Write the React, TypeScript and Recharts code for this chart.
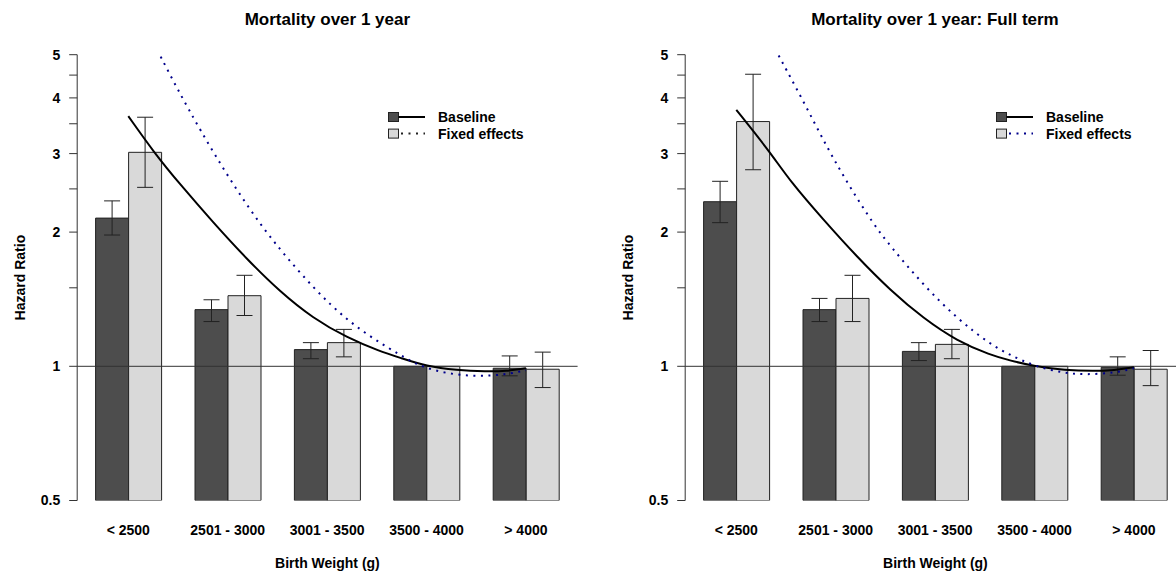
import React from "react";
import { ComposedChart, Bar, Line, XAxis, YAxis, ErrorBar, ReferenceLine, Legend } from "recharts";

const FONT = "'Liberation Sans', Arial, sans-serif";
const DARK = "#4d4d4d";
const LIGHT = "#d9d9d9";
const BLUE = "#00008b";

const categories = ["< 2500", "2501 - 3000", "3001 - 3500", "3500 - 4000", "> 4000"];
const yTicks = [0.5, 1, 1.5, 2, 2.5, 3, 3.5, 4, 4.5, 5];
const yLabelled = [0.5, 1, 2, 3, 4, 5];

// panel 1: all births
const baseAll = [2.15, 1.34, 1.09, 1, 0.99];
const baseAllLo = [1.97, 1.26, 1.04, null, 0.952];
const baseAllHi = [2.35, 1.41, 1.13, null, 1.055];
const feAll = [3.02, 1.44, 1.13, 1, 0.985];
const feAllLo = [2.52, 1.3, 1.05, null, 0.896];
const feAllHi = [3.62, 1.6, 1.21, null, 1.076];

// fitted curves, x in grams (group midpoints 2250 ... 4250)
const curveBaseAllBw = [2250, 2381, 2510, 2678, 2846, 3013, 3181, 3349, 3516, 3617, 3750, 3900, 4050, 4150, 4250];
const curveBaseAllHr = [3.64, 3.01, 2.56, 2.1, 1.74, 1.47, 1.28, 1.16, 1.08, 1.045, 1.0, 0.98, 0.973, 0.975, 0.99];
const curveFeAllBw = [2413, 2493, 2611, 2761, 2929, 3097, 3265, 3432, 3617, 3717, 3850, 4000, 4150, 4250];
const curveFeAllHr = [4.95, 4.22, 3.39, 2.62, 2.03, 1.65, 1.37, 1.19, 1.06, 1.0, 0.963, 0.948, 0.958, 0.98];

// panel 2: full term
const baseTerm = [2.34, 1.34, 1.08, 1, 0.995];
const baseTermLo = [2.1, 1.26, 1.03, null, 0.955];
const baseTermHi = [2.6, 1.42, 1.13, null, 1.05];
const feTerm = [3.54, 1.42, 1.12, 1, 0.985];
const feTermLo = [2.76, 1.26, 1.04, null, 0.905];
const feTermHi = [4.52, 1.6, 1.21, null, 1.085];

const curveBaseTermBw = [2250, 2421, 2521, 2689, 2857, 3025, 3192, 3360, 3528, 3628, 3750, 3900, 4050, 4150, 4250];
const curveBaseTermHr = [3.76, 3.02, 2.6, 2.13, 1.76, 1.48, 1.28, 1.14, 1.06, 1.03, 1.0, 0.98, 0.975, 0.98, 0.995];
const curveFeTermBw = [2463, 2589, 2706, 2815, 2941, 3025, 3192, 3360, 3528, 3628, 3750, 3900, 4000, 4150, 4250];
const curveFeTermHr = [4.98, 3.92, 3.1, 2.55, 2.08, 1.86, 1.52, 1.28, 1.12, 1.06, 1.0, 0.965, 0.958, 0.965, 0.99];

function err(v: number, lo: number | null, hi: number | null) {
  return lo == null || hi == null ? null : [v - lo, hi - v];
}

function makeRows(b: number[], bLo: any[], bHi: any[], f: number[], fLo: any[], fHi: any[]) {
  return categories.map((cat, i) => ({
    cat,
    base: b[i],
    baseErr: err(b[i], bLo[i], bHi[i]),
    fe: f[i],
    feErr: err(f[i], fLo[i], fHi[i]),
  }));
}

function makeCurve(bw: number[], hr: number[]) {
  return bw.map((x, i) => ({ bw: x, hr: hr[i] }));
}

const PAD = { left: 1.4, right: 2 };

function YTitle({ viewBox }: any) {
  const x = viewBox.x + 2.8;
  const y = viewBox.y + viewBox.height / 2;
  return (
    <text x={x} y={y} transform={`rotate(-90, ${x}, ${y})`} textAnchor="middle" dominantBaseline="central"
      style={{ fontFamily: FONT, fontSize: 14, fontWeight: "bold", fill: "#000" }}>
      Hazard Ratio
    </text>
  );
}

function LegendBox({ dotColor }: { dotColor: string }) {
  const txt = { fontFamily: FONT, fontSize: 14, fontWeight: "bold" as const, fill: "#000" };
  return (
    <svg width={190} height={36} style={{ display: "block", overflow: "visible" }}>
      <rect x={0.5} y={0.5} width={10} height={9} fill={DARK} stroke="#222" />
      <line x1={10.5} y1={5} x2={37} y2={5} stroke="#000" strokeWidth={2} />
      <text x={50} y={5} dominantBaseline="central" style={txt}>Baseline</text>
      <rect x={0.5} y={17.1} width={10} height={9} fill={LIGHT} stroke="#222" />
      <line x1={13} y1={21.6} x2={37} y2={21.6} stroke={dotColor} strokeWidth={2} strokeDasharray="2 5.5" />
      <text x={50} y={21.6} dominantBaseline="central" style={txt}>Fixed effects</text>
    </svg>
  );
}

function Panel({ left, title, rows, curveBase, curveFe, legendDot }: any) {
  return (
    <div style={{ position: "absolute", left, top: 0, width: 588, height: 573 }}>
      <div style={{ position: "absolute", left: 77.2, width: 500.4, top: 10, lineHeight: "20px", textAlign: "center",
        fontFamily: FONT, fontSize: 17, fontWeight: "bold", color: "#000", whiteSpace: "nowrap" }}>
        {title}
      </div>
      <ComposedChart width={588} height={573} data={rows} barGap={0} barSize={33}
        margin={{ top: 54.7, right: 10.4, bottom: 0, left: 17.2 }}>
        <XAxis xAxisId="cat" dataKey="cat" type="category" padding={PAD} height={72.5}
          axisLine={false} tickLine={false} tickSize={0} tickMargin={24.5} interval={0}
          tick={{ fill: "#000", fontSize: 14, fontWeight: "bold", fontFamily: FONT }}
          label={{ value: "Birth Weight (g)", position: "insideBottom", offset: 5, fill: "#000",
            fontSize: 14, fontWeight: "bold", fontFamily: FONT }} />
        <XAxis xAxisId="num" dataKey="bw" type="number" domain={[2000, 4500]} allowDataOverflow padding={PAD} hide />
        <YAxis scale="log" domain={[0.5, 5]} allowDataOverflow ticks={yTicks} interval={0} width={60}
          tickSize={8} tickMargin={9} axisLine={{ stroke: "#333" }} tickLine={{ stroke: "#333" }}
          tickFormatter={(v: number) => (yLabelled.includes(v) ? String(v) : "")}
          tick={{ fill: "#000", fontSize: 14, fontWeight: "bold", fontFamily: FONT }}
          label={<YTitle />} />
        <Bar xAxisId="cat" dataKey="base" fill={DARK} stroke="#222" strokeWidth={1} isAnimationActive={false}>
          <ErrorBar dataKey="baseErr" width={8} stroke="#222" strokeWidth={1} direction="y" />
        </Bar>
        <Bar xAxisId="cat" dataKey="fe" fill={LIGHT} stroke="#222" strokeWidth={1} isAnimationActive={false}>
          <ErrorBar dataKey="feErr" width={8} stroke="#222" strokeWidth={1} direction="y" />
        </Bar>
        <ReferenceLine xAxisId="cat" y={1} stroke="#333" strokeWidth={1} />
        <Line xAxisId="num" data={curveBase} dataKey="hr" type="basis" stroke="#000" strokeWidth={2}
          dot={false} activeDot={false} isAnimationActive={false} />
        <Line xAxisId="num" data={curveFe} dataKey="hr" type="basis" stroke={BLUE} strokeWidth={2}
          strokeDasharray="2 5.5" dot={false} activeDot={false} isAnimationActive={false} />
        <Legend layout="horizontal" verticalAlign="middle" align="center"
          content={() => <LegendBox dotColor={legendDot} />}
          wrapperStyle={{ left: 388.2, top: 112.2, width: 190, height: 36 }} />
      </ComposedChart>
    </div>
  );
}

export default function App() {
  const rowsAll = makeRows(baseAll, baseAllLo, baseAllHi, feAll, feAllLo, feAllHi);
  const rowsTerm = makeRows(baseTerm, baseTermLo, baseTermHi, feTerm, feTermLo, feTermHi);
  return (
    <div style={{ position: "fixed", left: 0, top: 0, width: 1176, height: 573, overflow: "hidden", background: "#fff" }}>
      <Panel left={0} title="Mortality over 1 year" rows={rowsAll}
        curveBase={makeCurve(curveBaseAllBw, curveBaseAllHr)} curveFe={makeCurve(curveFeAllBw, curveFeAllHr)}
        legendDot="#222" />
      <Panel left={607.6} title="Mortality over 1 year: Full term" rows={rowsTerm}
        curveBase={makeCurve(curveBaseTermBw, curveBaseTermHr)} curveFe={makeCurve(curveFeTermBw, curveFeTermHr)}
        legendDot={BLUE} />
    </div>
  );
}
